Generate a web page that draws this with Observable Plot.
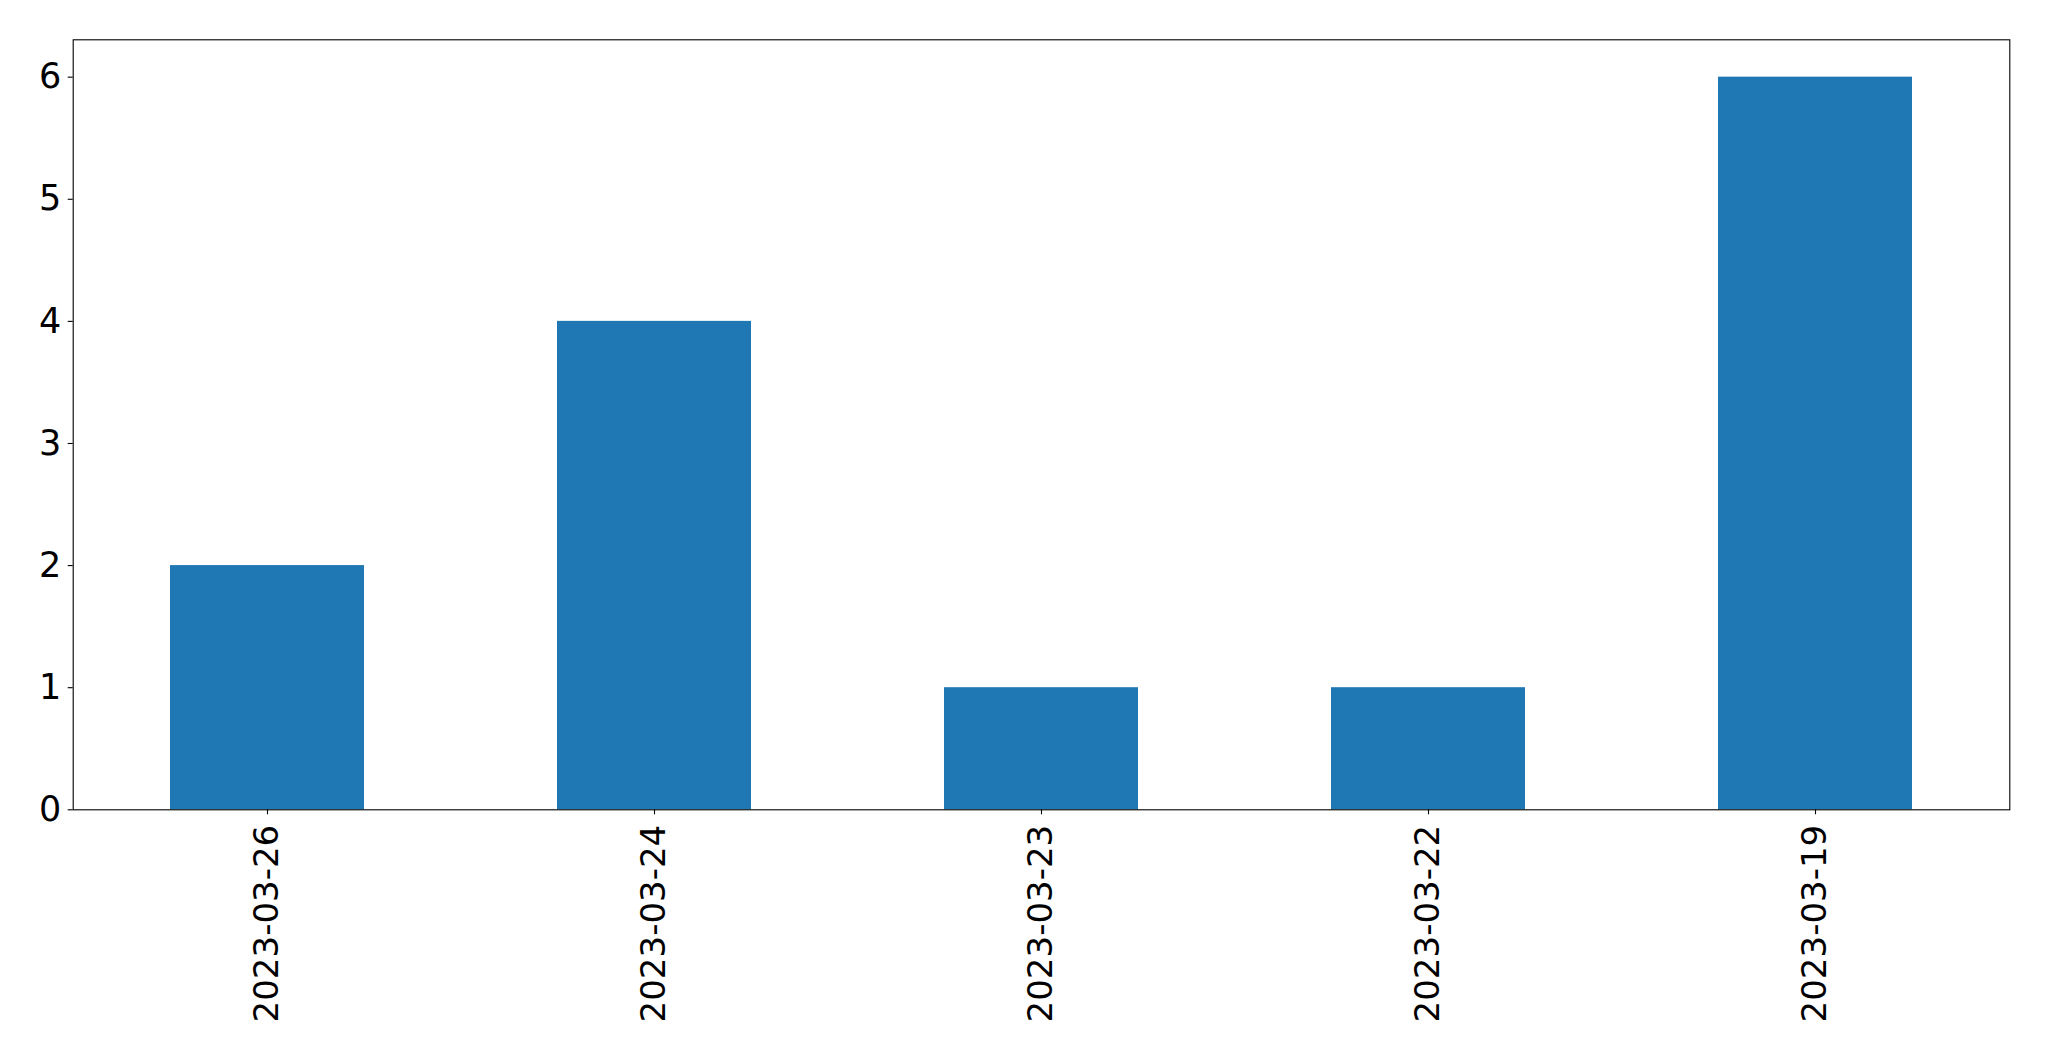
<!DOCTYPE html>
<html>
<head>
<meta charset="utf-8">
<script src="https://cdn.jsdelivr.net/npm/d3@7"></script>
<script src="https://cdn.jsdelivr.net/npm/@observablehq/plot@0.6"></script>
<style>
  html, body { margin: 0; padding: 0; background: #fff; }
  #chart svg { display: block; }
</style>
</head>
<body>
<div id="chart"></div>
<script>
const dates = ["2023-03-26", "2023-03-24", "2023-03-23", "2023-03-22", "2023-03-19"];
const counts = [2, 4, 1, 1, 6];
const yTicks = [0, 1, 2, 3, 4, 5, 6];

const data = dates.map((d, i) => ({date: d, count: counts[i]}));

const chart = Plot.plot({
  width: 2049,
  height: 1061,
  marginLeft: 72.7,
  marginRight: 39.7,
  marginTop: 39.3,
  marginBottom: 251.7,
  style: {fontFamily: "DejaVu Sans", background: "#fff", color: "black"},
  x: {domain: dates, paddingInner: 0.5, paddingOuter: 0.25, label: null},
  y: {domain: [0, 6.306], label: null},
  marks: [
    Plot.barY(data, {x: "date", y: "count", fill: "#1f77b4"}),
    Plot.frame({stroke: "black", strokeWidth: 1.1}),
    Plot.axisY({ticks: yTicks, tickFormat: d => String(d), tickSize: 5, tickPadding: 7, fontSize: 35, label: null, stroke: "black", strokeWidth: 1.1}),
    Plot.axisX({tickRotate: -90, tickSize: 5, tickPadding: 10, fontSize: 34, label: null, stroke: "black", strokeWidth: 1.1})
  ]
});
document.getElementById("chart").appendChild(chart);
</script>
</body>
</html>
